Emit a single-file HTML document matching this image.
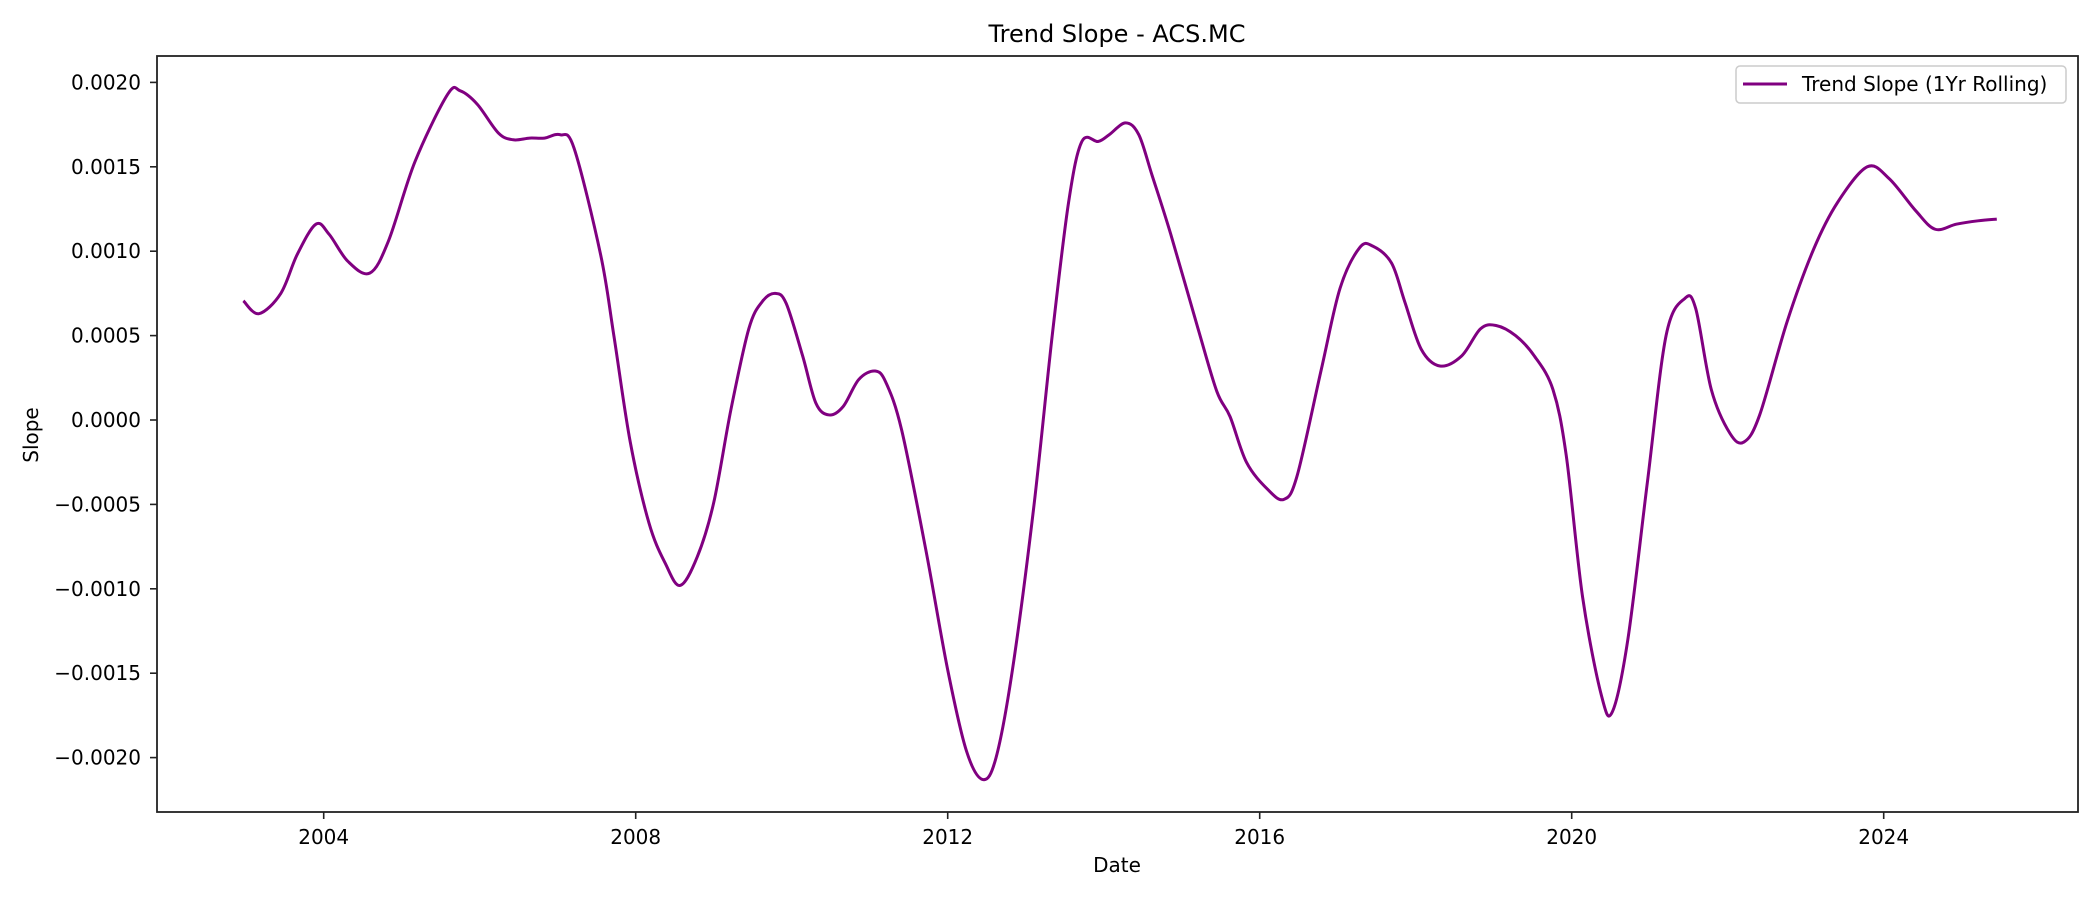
<!DOCTYPE html>
<html><head><meta charset="utf-8"><style>
html,body{margin:0;padding:0;background:#fff;}
svg text{font-family:"DejaVu Sans","Liberation Sans",sans-serif;fill:#000;}
</style></head><body>
<svg id="chart" width="2100" height="900" viewBox="0 0 2100 900" xmlns="http://www.w3.org/2000/svg">
<rect x="0" y="0" width="2100" height="900" fill="#fff"/>
<text x="1117" y="42" font-size="24" text-anchor="middle">Trend Slope - ACS.MC</text>
<g id="plot"></g>
<rect x="157" y="56" width="1921" height="756" fill="none" stroke="#222" stroke-width="1.8"/>
<text x="1117" y="872" font-size="20" text-anchor="middle">Date</text>
<text x="0" y="0" font-size="20" text-anchor="middle" transform="translate(38,435) rotate(-90)">Slope</text>
<g>
<rect x="1736" y="66" width="330" height="37" rx="4" fill="#fff" stroke="#ccc" stroke-width="1.5"/>
<line x1="1743" y1="84" x2="1787" y2="84" stroke="#800080" stroke-width="3"/>
<text x="1802" y="91" font-size="20">Trend Slope (1Yr Rolling)</text>
</g>
</svg>
<script>
const years = [2002.97,2003.17,2003.45,2003.66,2003.90,2004.07,2004.31,2004.59,2004.83,2005.17,2005.59,2005.75,2005.97,2006.24,2006.43,2006.64,2006.83,2007.03,2007.21,2007.55,2007.72,2007.93,2008.17,2008.38,2008.57,2008.79,2009.0,2009.22,2009.45,2009.62,2009.79,2009.93,2010.14,2010.31,2010.48,2010.66,2010.86,2011.07,2011.21,2011.41,2011.72,2012.0,2012.24,2012.45,2012.62,2012.83,2013.1,2013.34,2013.55,2013.72,2013.93,2014.07,2014.28,2014.45,2014.62,2014.86,2015.21,2015.45,2015.62,2015.83,2016.10,2016.31,2016.48,2016.79,2017.03,2017.28,2017.45,2017.69,2017.86,2018.07,2018.31,2018.59,2018.83,2019.03,2019.28,2019.52,2019.76,2019.93,2020.14,2020.38,2020.52,2020.72,2020.97,2021.21,2021.45,2021.59,2021.79,2022.03,2022.21,2022.41,2022.76,2023.10,2023.41,2023.79,2024.07,2024.41,2024.66,2024.93,2025.21,2025.45];
const slopes = [0.000706,0.00063,0.00075,0.00098,0.00116,0.0011,0.00094,0.00087,0.00106,0.00153,0.00193,0.00195,0.00187,0.0017,0.00166,0.00167,0.00167,0.00169,0.00161,0.00098,0.0005,-0.00013,-0.00061,-0.00085,-0.00098,-0.00081,-0.00049,0.00006,0.00054,0.0007,0.00075,0.00069,0.00038,0.0001,0.00003,0.00008,0.00024,0.00029,0.00022,-0.00006,-0.00077,-0.00148,-0.00196,-0.00213,-0.002,-0.00148,-0.00053,0.0005,0.00129,0.00165,0.00165,0.00169,0.00176,0.00169,0.00145,0.0011,0.00054,0.00017,0.00002,-0.00025,-0.00041,-0.00047,-0.00033,0.0003,0.00078,0.00102,0.00103,0.00093,0.0007,0.00042,0.00032,0.00038,0.00054,0.00056,0.0005,0.00038,0.00018,-0.00021,-0.00105,-0.00163,-0.00173,-0.0013,-0.00037,0.0005,0.00072,0.00066,0.00018,-0.00008,-0.00013,0.00003,0.00058,0.00101,0.00129,0.0015,0.00143,0.00124,0.00113,0.00116,0.00118,0.00119];
const yTicks = [0.002,0.0015,0.001,0.0005,0,-0.0005,-0.001,-0.0015,-0.002];
const yTickLabels = ["0.0020","0.0015","0.0010","0.0005","0.0000","\u22120.0005","\u22120.0010","\u22120.0015","\u22120.0020"];
const xTicks = [2004,2008,2012,2016,2020,2024];
const xTickLabels = ["2004","2008","2012","2016","2020","2024"];

const NS = "http://www.w3.org/2000/svg";
function xScale(yr){ return 323.7 + (yr - 2004) * 78; }
function yScale(v){ return 420 - v / 0.0005 * 84.4; }
const svg = document.getElementById('chart');
const plot = document.getElementById('plot');

yTicks.forEach((t,i)=>{
  const y = yScale(t);
  const ln = document.createElementNS(NS,'line');
  ln.setAttribute('x1',150); ln.setAttribute('x2',157);
  ln.setAttribute('y1',y); ln.setAttribute('y2',y);
  ln.setAttribute('stroke','#222'); ln.setAttribute('stroke-width','1.6');
  
  
  svg.appendChild(ln);
  const tx = document.createElementNS(NS,'text');
  tx.setAttribute('x',141); tx.setAttribute('y',y+7);
  tx.setAttribute('font-size','20'); tx.setAttribute('text-anchor','end');
  tx.textContent = yTickLabels[i];
  
  
  svg.appendChild(tx);
});
xTicks.forEach((t,i)=>{
  const x = xScale(t);
  const ln = document.createElementNS(NS,'line');
  ln.setAttribute('x1',x); ln.setAttribute('x2',x);
  ln.setAttribute('y1',812); ln.setAttribute('y2',819);
  ln.setAttribute('stroke','#222'); ln.setAttribute('stroke-width','1.6');
  
  
  svg.appendChild(ln);
  const tx = document.createElementNS(NS,'text');
  tx.setAttribute('x',x); tx.setAttribute('y',844);
  tx.setAttribute('font-size','20'); tx.setAttribute('text-anchor','middle');
  tx.textContent = xTickLabels[i];
  
  
  svg.appendChild(tx);
});

const pts = years.map((yr,i)=>[xScale(yr), yScale(slopes[i])]);
let d = 'M' + pts[0][0].toFixed(2) + ',' + pts[0][1].toFixed(2);
for (let i=0;i<pts.length-1;i++){
  const p0 = pts[Math.max(0,i-1)], p1 = pts[i], p2 = pts[i+1], p3 = pts[Math.min(pts.length-1,i+2)];
  const c1x = p1[0] + (p2[0]-p0[0])/6, c1y = p1[1] + (p2[1]-p0[1])/6;
  const c2x = p2[0] - (p3[0]-p1[0])/6, c2y = p2[1] - (p3[1]-p1[1])/6;
  d += ' C' + c1x.toFixed(2)+','+c1y.toFixed(2)+' '+c2x.toFixed(2)+','+c2y.toFixed(2)+' '+p2[0].toFixed(2)+','+p2[1].toFixed(2);
}
const path = document.createElementNS(NS,'path');
path.setAttribute('d', d);
path.setAttribute('fill','none');
path.setAttribute('stroke','#800080');
path.setAttribute('stroke-width','3');
path.setAttribute('stroke-linejoin','round');


plot.appendChild(path);
</script>
</body></html>
